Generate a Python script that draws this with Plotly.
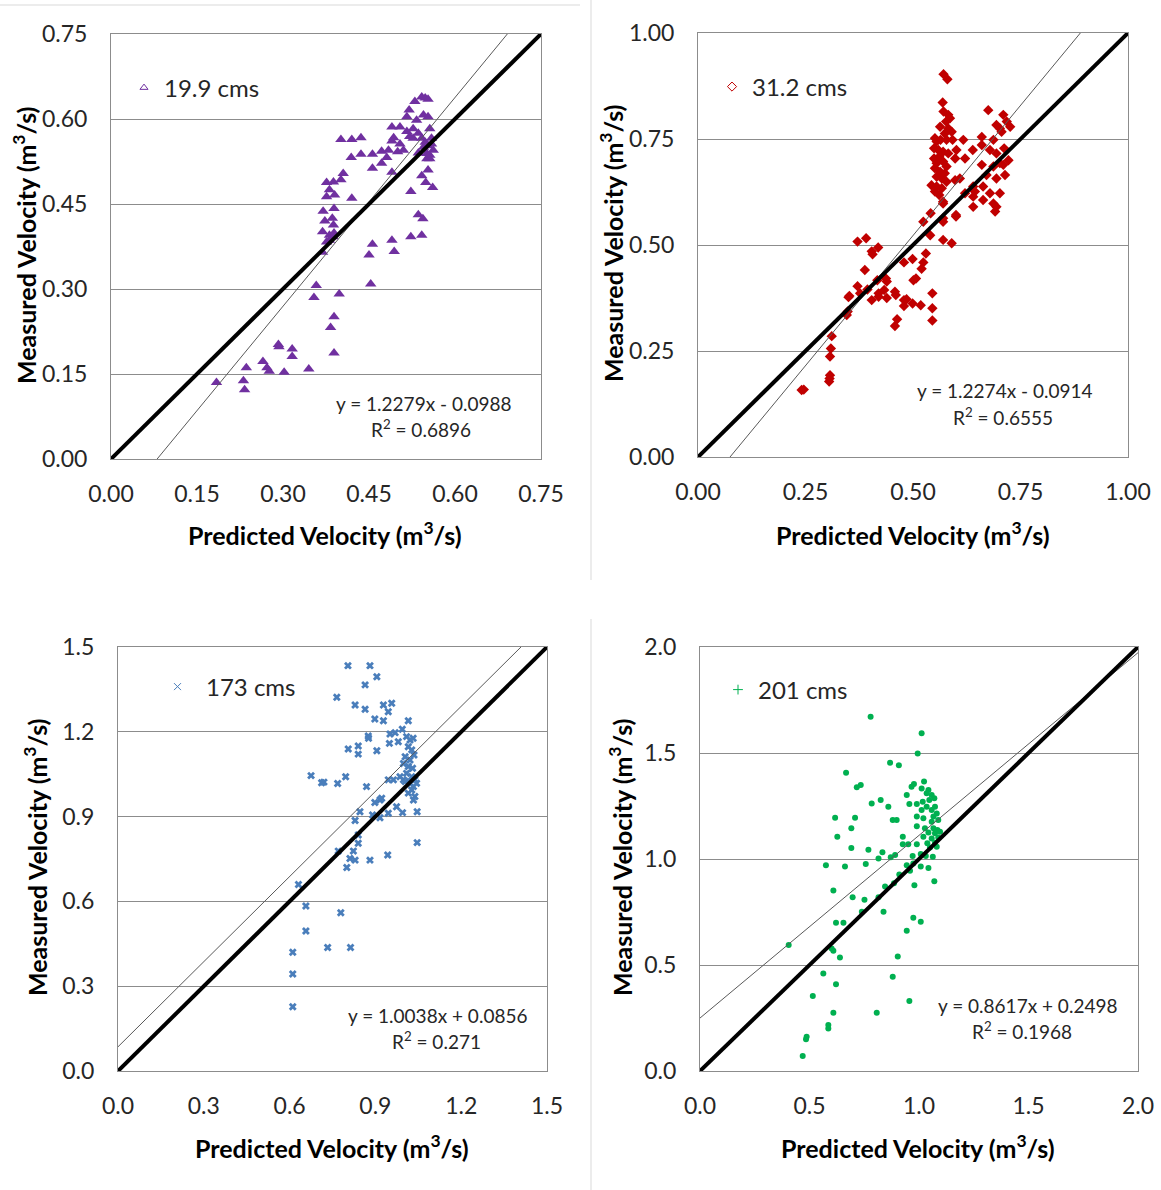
import plotly.graph_objects as go

W, H = 1161, 1190

# ---------------- data ----------------
names = ["19.9 cms", "31.2 cms", "173 cms", "201 cms"]
colors = ["#7030A0", "#C00000", "#4A7EBB", "#00B050"]

x1 = [0.184,0.231,0.233,0.236,0.265,0.272,0.276,0.292,0.293,0.302,0.316,0.316,0.345,0.354,0.358,0.369,0.383,0.389,0.389,0.398,
      0.420,0.401,0.420,0.436,0.419,0.436,0.405,0.401,0.376,0.388,0.381,0.376,0.390,0.389,0.370,0.373,0.386,0.388,0.369,0.381,
      0.387,0.381,0.376,0.389,0.450,0.456,0.453,0.490,0.494,0.523,0.542,0.536,0.544,0.523,0.542,0.549,0.561,0.553,0.456,0.456,
      0.472,0.472,0.481,0.484,0.490,0.490,0.490,0.493,0.500,0.504,0.504,0.510,0.516,0.516,0.520,0.521,0.527,0.527,0.530,0.533,
      0.536,0.536,0.542,0.548,0.553,0.545,0.553,0.556,0.548,0.553,0.559,0.545,0.551,0.556,0.562,0.551,0.556,0.559,0.542]
y1 = [0.135,0.138,0.122,0.161,0.172,0.161,0.155,0.202,0.198,0.153,0.194,0.181,0.159,0.285,0.306,0.365,0.232,0.251,0.187,0.291,
      0.460,0.564,0.564,0.567,0.532,0.538,0.504,0.493,0.488,0.489,0.475,0.463,0.466,0.442,0.437,0.420,0.425,0.413,0.401,0.395,
      0.392,0.386,0.383,0.399,0.360,0.379,0.309,0.386,0.366,0.392,0.395,0.431,0.424,0.472,0.500,0.488,0.479,0.510,0.538,0.513,
      0.543,0.522,0.532,0.545,0.506,0.561,0.586,0.567,0.542,0.586,0.556,0.545,0.578,0.604,0.616,0.569,0.583,0.566,0.631,0.598,
      0.575,0.540,0.639,0.637,0.635,0.607,0.604,0.583,0.559,0.553,0.556,0.550,0.539,0.536,0.545,0.530,0.530,0.566,0.566]

x2 = [0.241,0.246,0.305,0.306,0.307,0.307,0.309,0.311,0.346,0.348,0.350,0.352,0.371,0.377,0.371,0.391,0.388,0.394,0.404,0.404,
      0.406,0.419,0.417,0.420,0.420,0.437,0.439,0.439,0.433,0.458,0.460,0.458,0.463,0.479,0.479,0.485,0.499,0.518,0.479,0.499,
      0.501,0.507,0.520,0.524,0.530,0.545,0.545,0.545,0.540,0.524,0.541,0.570,0.590,0.570,0.570,0.570,0.600,0.600,
      0.571,0.580,0.569,0.571,0.582,0.586,0.577,0.563,0.582,0.590,0.574,0.551,0.555,0.564,0.578,0.592,0.549,0.559,0.570,0.582,
      0.561,0.549,0.555,0.570,0.578,0.551,0.563,0.574,0.555,0.567,0.578,0.543,0.555,0.567,0.551,0.561,0.570,0.598,0.609,0.598,0.601,
      0.675,0.710,0.718,0.694,0.702,0.726,0.706,0.687,0.660,0.617,0.639,0.621,0.660,0.679,0.694,0.712,0.722,0.660,0.687,0.702,
      0.714,0.694,0.671,0.640,0.663,0.621,0.640,0.663,0.679,0.702,0.687,0.694,0.691,0.640,0.644,0.710]
y2 = [0.158,0.159,0.178,0.185,0.193,0.237,0.256,0.285,0.335,0.343,0.377,0.380,0.403,0.386,0.508,0.516,0.441,0.395,0.370,0.485,
      0.478,0.494,0.417,0.386,0.378,0.421,0.414,0.375,0.394,0.390,0.382,0.309,0.325,0.370,0.356,0.372,0.362,0.358,0.459,0.467,
      0.417,0.421,0.444,0.459,0.480,0.386,0.351,0.322,0.523,0.555,0.575,0.512,0.504,0.555,0.598,0.563,0.571,0.567,
      0.903,0.891,0.836,0.815,0.807,0.799,0.791,0.779,0.775,0.767,0.763,0.752,0.744,0.748,0.748,0.748,0.728,0.724,0.720,0.716,
      0.708,0.704,0.693,0.697,0.685,0.681,0.673,0.669,0.661,0.657,0.649,0.641,0.638,0.634,0.626,0.618,0.602,0.653,0.657,0.704,0.724,
      0.818,0.807,0.791,0.783,0.775,0.779,0.767,0.748,0.755,0.748,0.724,0.704,0.736,0.724,0.716,0.728,0.700,0.689,0.685,0.693,
      0.665,0.657,0.665,0.638,0.638,0.622,0.614,0.606,0.622,0.622,0.598,0.590,0.579,0.590,0.626,0.689]

x3 = [0.804,0.881,0.905,0.864,0.765,0.829,0.864,0.928,0.957,0.945,0.898,0.928,1.015,0.994,0.969,0.951,0.875,0.876,0.805,0.840,
      0.840,0.905,0.949,0.980,1.009,1.021,1.032,1.015,1.027,1.004,1.021,1.035,0.998,1.015,1.030,1.009,1.027,1.038,1.021,1.004,
      1.033,1.044,1.027,1.015,1.038,1.033,0.998,0.986,0.675,0.712,0.720,0.768,0.796,0.869,0.963,0.945,0.916,0.898,0.922,0.974,
      0.945,0.995,1.046,0.846,0.890,0.916,0.829,0.840,0.840,0.770,0.823,0.811,0.829,0.881,0.943,0.800,1.046,0.631,0.657,0.657,
      0.779,0.733,0.813,0.611,0.611,0.611]
y3 = [1.434,1.434,1.395,1.366,1.322,1.295,1.280,1.295,1.301,1.271,1.245,1.239,1.239,1.209,1.197,1.192,1.185,1.177,1.139,1.150,
      1.121,1.133,1.159,1.165,1.183,1.171,1.177,1.147,1.136,1.112,1.100,1.118,1.088,1.077,1.071,1.053,1.041,1.030,1.018,1.024,
      1.006,1.018,0.994,0.983,0.971,0.959,1.030,1.041,1.045,1.020,1.022,1.017,1.041,1.006,1.030,1.030,0.959,0.950,0.965,0.935,
      0.912,0.914,0.917,0.917,0.906,0.896,0.886,0.835,0.806,0.778,0.778,0.752,0.746,0.746,0.764,0.720,0.808,0.660,0.584,0.495,
      0.560,0.437,0.437,0.420,0.343,0.227]

x4 = [0.779,1.012,0.994,0.868,0.908,0.667,0.716,0.734,0.977,0.966,1.023,1.012,1.043,1.035,1.058,0.944,1.070,0.784,0.825,0.860,
      0.956,0.990,1.017,1.047,1.073,1.035,1.012,1.058,1.081,0.617,0.708,0.990,1.020,1.066,0.880,0.898,1.058,1.088,0.691,0.990,
      1.027,1.066,1.084,1.043,1.073,1.096,0.627,0.926,1.020,1.058,1.088,1.038,1.073,0.951,0.990,0.926,0.691,0.769,0.833,1.050,
      1.081,0.891,0.871,0.815,0.971,1.008,1.031,1.063,0.575,0.662,0.757,0.944,0.974,1.008,1.043,0.959,0.910,0.886,0.845,0.979,
      1.070,0.609,0.697,0.751,0.815,0.739,0.838,0.621,0.655,0.974,1.008,0.944,0.405,0.601,0.609,0.639,0.903,0.563,0.880,0.621,
      0.515,0.609,0.807,0.956,0.586,0.586,0.487,0.484,0.469]
y4 = [1.671,1.593,1.498,1.454,1.442,1.407,1.338,1.349,1.354,1.341,1.365,1.333,1.326,1.310,1.302,1.302,1.286,1.262,1.278,1.247,
      1.259,1.259,1.270,1.278,1.247,1.247,1.231,1.231,1.215,1.195,1.195,1.200,1.192,1.200,1.184,1.184,1.176,1.184,1.145,1.155,
      1.145,1.145,1.137,1.125,1.121,1.129,1.105,1.105,1.105,1.097,1.102,1.074,1.077,1.069,1.069,1.069,1.052,1.044,1.032,1.054,
      1.058,1.019,1.008,1.002,1.014,1.024,1.014,1.011,0.970,0.965,0.976,0.971,0.979,0.965,0.957,0.944,0.927,0.886,0.870,0.876,
      0.895,0.852,0.820,0.808,0.820,0.751,0.751,0.699,0.699,0.723,0.704,0.661,0.594,0.578,0.567,0.535,0.540,0.460,0.445,0.409,
      0.354,0.275,0.275,0.330,0.217,0.201,0.162,0.150,0.071]

slopes = [1.2279, 1.2274, 1.0038, 0.8617]
intercepts = [-0.0988, -0.0914, 0.0856, 0.2498]
r2_text = ["0.6896", "0.6555", "0.271", "0.1968"]

ticks = [[0, 0.15, 0.30, 0.45, 0.60, 0.75],
         [0, 0.25, 0.50, 0.75, 1.00],
         [0, 0.3, 0.6, 0.9, 1.2, 1.5],
         [0, 0.5, 1.0, 1.5, 2.0]]
tickfmt = ["{:.2f}", "{:.2f}", "{:.1f}", "{:.1f}"]
axis_max = [0.75, 1.0, 1.5, 2.0]

xs = [x1, x2, x3, x4]
ys = [y1, y2, y3, y4]

# ---------------- layout geometry (pixels) ----------------
plot_px = [(111, 541, 34, 459), (698, 1128, 33, 457), (118, 547, 647, 1071), (700, 1138, 647, 1071)]
symbols = ["triangle-up", "diamond", "x", "circle"]
msizes = [10, 8, 7, 6]
leg_symbols = ["triangle-up-open", "diamond-open", "x-thin-open", "cross-thin-open"]
leg_pos = [(124, 88), (712, 87), (149, 687), (718, 690)]
leg_itemwidth = [30, 30, 47, 30]
eq_pos = [(424, 403, 421, 428), (1005, 391, 1003, 416), (437, 1015, 436, 1040), (1027, 1005, 1022, 1030)]
xtitle_pos = [(325, 533), (913, 533), (332, 1146), (918, 1146)]
ytitle_pos = [(25, 246), (612, 244), (35, 858), (620, 858)]

FONT = "Lato"
TICK_SIZE = 23
TITLE_SIZE = 25
LEG_SIZE = 24
EQ_SIZE = 19

fig = go.Figure()

def px2x(p):
    return p / W

def px2y(p):
    return 1 - p / H

annotations = []
for i in range(4):
    n = "" if i == 0 else str(i + 1)
    xa, ya = "x" + n, "y" + n
    fig.add_trace(go.Scatter(x=xs[i], y=ys[i], mode="markers", xaxis=xa, yaxis=ya,
                             marker=dict(symbol=symbols[i], size=msizes[i], color=colors[i], line=dict(width=0)),
                             showlegend=False, name=names[i]))
    # legend proxy (legend symbol only)
    fig.add_trace(go.Scatter(x=[None], y=[None], mode="markers", xaxis=xa, yaxis=ya,
                             marker=dict(symbol=leg_symbols[i], size=7, color=colors[i], line=dict(width=1, color=colors[i])),
                             name=names[i], legend="legend" + n, showlegend=True))
    m = axis_max[i]
    # linear trend line
    fig.add_trace(go.Scatter(x=[0, m], y=[intercepts[i], slopes[i] * m + intercepts[i]], mode="lines",
                             xaxis=xa, yaxis=ya, line=dict(color="#595959", width=1), showlegend=False,
                             hoverinfo="skip"))
    # 1:1 line
    fig.add_trace(go.Scatter(x=[0, m], y=[0, m], mode="lines", xaxis=xa, yaxis=ya,
                             line=dict(color="black", width=4), showlegend=False, hoverinfo="skip"))

    l, r, t, b = plot_px[i]
    tt = [tickfmt[i].format(v) for v in ticks[i]]
    common = dict(range=[0, m], tickvals=ticks[i], ticktext=tt, showline=True, mirror=True,
                  linecolor="#8C8C8C", linewidth=1, zeroline=False, ticks="outside",
                  tickcolor="rgba(0,0,0,0)", tickfont=dict(family=FONT, size=TICK_SIZE, color="#262626"),
                  fixedrange=True, automargin=False)
    fig.layout["xaxis" + n] = dict(common, domain=[px2x(l), px2x(r)], anchor=ya, showgrid=False, ticklen=14)
    fig.layout["yaxis" + n] = dict(common, domain=[px2y(b), px2y(t)], anchor=xa, showgrid=True,
                                   gridcolor="#8C8C8C", gridwidth=1, ticklen=18)

    lx, ly = leg_pos[i]
    fig.layout["legend" + n] = dict(x=px2x(lx), y=px2y(ly), xanchor="left", yanchor="middle",
                                    bgcolor="rgba(0,0,0,0)", itemwidth=leg_itemwidth[i],
                                    font=dict(family=FONT, size=LEG_SIZE, color="#262626"))

    ex1, ey1, ex2, ey2 = eq_pos[i]
    sign = "-" if intercepts[i] < 0 else "+"
    eq = "y = {:.4f}x {} {:.4f}".format(slopes[i], sign, abs(intercepts[i]))
    annotations.append(dict(x=px2x(ex1), y=px2y(ey1), xref="paper", yref="paper", text=eq, showarrow=False,
                            xanchor="center", yanchor="middle", font=dict(family=FONT, size=EQ_SIZE, color="#262626")))
    annotations.append(dict(x=px2x(ex2), y=px2y(ey2), xref="paper", yref="paper",
                            text="R<sup>2</sup> = " + r2_text[i], showarrow=False,
                            xanchor="center", yanchor="middle", font=dict(family=FONT, size=EQ_SIZE, color="#262626")))
    tx, ty = xtitle_pos[i]
    annotations.append(dict(x=px2x(tx), y=px2y(ty), xref="paper", yref="paper",
                            text="<b>Predicted Velocity (m<sup>3</sup>/s)</b>", showarrow=False,
                            xanchor="center", yanchor="middle", font=dict(family=FONT, size=TITLE_SIZE, color="black")))
    tx, ty = ytitle_pos[i]
    annotations.append(dict(x=px2x(tx), y=px2y(ty), xref="paper", yref="paper",
                            text="<b>Measured Velocity (m<sup>3</sup>/s)</b>", showarrow=False, textangle=-90,
                            xanchor="center", yanchor="middle", font=dict(family=FONT, size=TITLE_SIZE, color="black")))

sep = "#D9D9D9"
shapes = [
    dict(type="line", xref="paper", yref="paper", x0=0, x1=px2x(580), y0=px2y(5), y1=px2y(5), line=dict(color=sep, width=1)),
    dict(type="line", xref="paper", yref="paper", x0=px2x(591), x1=px2x(591), y0=1, y1=px2y(580), line=dict(color=sep, width=1)),
    dict(type="line", xref="paper", yref="paper", x0=px2x(591), x1=px2x(591), y0=px2y(619), y1=0, line=dict(color=sep, width=1)),
]

fig.update_layout(width=W, height=H, margin=dict(l=0, r=0, t=0, b=0, pad=0, autoexpand=False),
                  paper_bgcolor="white", plot_bgcolor="white", annotations=annotations, shapes=shapes,
                  showlegend=True, font=dict(family=FONT))

fig.write_html("out.html", include_plotlyjs=True, config={"displayModeBar": False})
